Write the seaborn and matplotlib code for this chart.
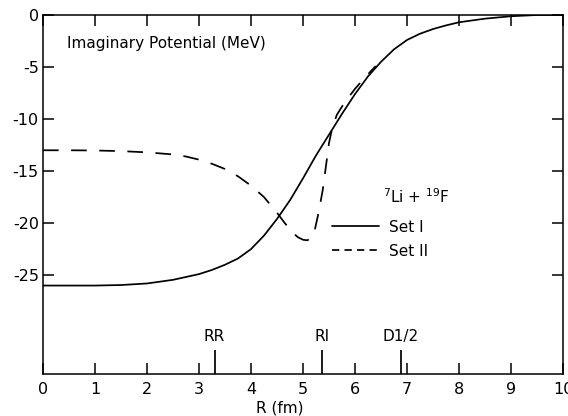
import matplotlib
matplotlib.use("Agg")
import matplotlib.pyplot as plt
import seaborn as sns
from matplotlib.lines import Line2D

# Set I (solid) imaginary potential
r_set1 = [0.0, 0.5, 1.0, 1.5, 2.0, 2.5, 3.0, 3.25, 3.5, 3.75, 4.0, 4.25, 4.5, 4.75,
          5.0, 5.25, 5.5, 5.75, 6.0, 6.25, 6.5, 6.75, 7.0, 7.25, 7.5, 7.75, 8.0,
          8.5, 9.0, 9.5, 10.0]
v_set1 = [-26.0, -26.0, -26.0, -25.95, -25.8, -25.45, -24.9, -24.5, -24.0, -23.4,
          -22.5, -21.2, -19.6, -17.8, -15.7, -13.5, -11.5, -9.5, -7.6, -5.9, -4.5,
          -3.3, -2.4, -1.8, -1.35, -1.0, -0.7, -0.35, -0.12, 0.0, 0.0]

# Set II (dashed)
r_set2 = [0.0, 0.5, 1.0, 1.5, 2.0, 2.5, 2.75, 3.0, 3.25, 3.5, 3.75, 4.0, 4.25, 4.5,
          4.65, 4.8, 4.9, 5.0, 5.08, 5.15, 5.22, 5.3, 5.38, 5.45, 5.5, 5.56, 5.65,
          5.8, 6.0, 6.2, 6.4]
v_set2 = [-13.0, -13.0, -13.02, -13.08, -13.2, -13.4, -13.6, -13.9, -14.3, -14.8,
          -15.5, -16.4, -17.5, -19.0, -20.0, -20.9, -21.35, -21.6, -21.65, -21.5,
          -20.8, -19.0, -16.8, -14.2, -12.3, -10.9, -9.6, -8.4, -7.1, -5.95, -4.9]

# radius markers on the R axis
marker_names = ["RR", "RI", "D1/2"]
marker_r = [3.3, 5.37, 6.88]

x_ticks = [0, 1, 2, 3, 4, 5, 6, 7, 8, 9, 10]
y_ticks = [0, -5, -10, -15, -20, -25]
series_labels = ["Set I", "Set II"]

sns.set_theme(style="ticks")
plt.rcParams["font.family"] = ["DejaVu Sans"]
plt.rcParams["axes.unicode_minus"] = False
plt.rcParams["text.color"] = "black"
plt.rcParams["axes.labelcolor"] = "black"

fig = plt.figure(figsize=(5.68, 4.16), dpi=100)
ax = fig.add_axes([43 / 568, 1 - 374 / 416, 520 / 568, 359 / 416])

lw = 1.25
sns.lineplot(x=r_set1, y=v_set1, ax=ax, color="black", linewidth=lw)
sns.lineplot(x=r_set2, y=v_set2, ax=ax, color="black", linewidth=lw,
             linestyle=(0, (9, 7.2)))

ax.vlines(marker_r, ymin=-34.5, ymax=-32.2, color="black", linewidth=lw)
for name, r in zip(marker_names, marker_r):
    ax.text(r, -31.6, name, ha="center", va="bottom", fontsize=11, color="black")

ax.set_xlim(0, 10)
ax.set_ylim(-34.5, 0)
ax.set_xticks(x_ticks)
ax.set_yticks(y_ticks)
ax.tick_params(direction="in", length=8, width=1.1, top=True, right=True,
               labelsize=11.5, colors="black")
ax.tick_params(axis="x", pad=6)
ax.tick_params(axis="y", pad=3)
for s in ax.spines.values():
    s.set_linewidth(1.1)
    s.set_color("black")

ax.set_xlabel("R (fm)", fontsize=11, color="black")
ax.xaxis.set_label_coords(0.456, -0.075)
ax.set_ylabel("")

ax.text(0.046, 0.922, "Imaginary Potential (MeV)", transform=ax.transAxes,
        va="center", ha="left", fontsize=11, color="black")
ax.text(0.654, 0.476, r"$^{7}$Li + $^{19}$F", transform=ax.transAxes,
        va="baseline", ha="left", fontsize=11, color="black")

handles = [Line2D([], [], color="black", linewidth=lw),
           Line2D([], [], color="black", linewidth=lw, linestyle=(0, (4.2, 3)))]
leg = ax.legend(handles=handles, labels=series_labels, loc="upper left",
                bbox_to_anchor=(0.556, 0.43), frameon=False, borderpad=0,
                borderaxespad=0, handlelength=3.1, handletextpad=0.65,
                labelspacing=0.6, fontsize=11)
for t in leg.get_texts():
    t.set_color("black")

fig.savefig("out.png", dpi=100)
